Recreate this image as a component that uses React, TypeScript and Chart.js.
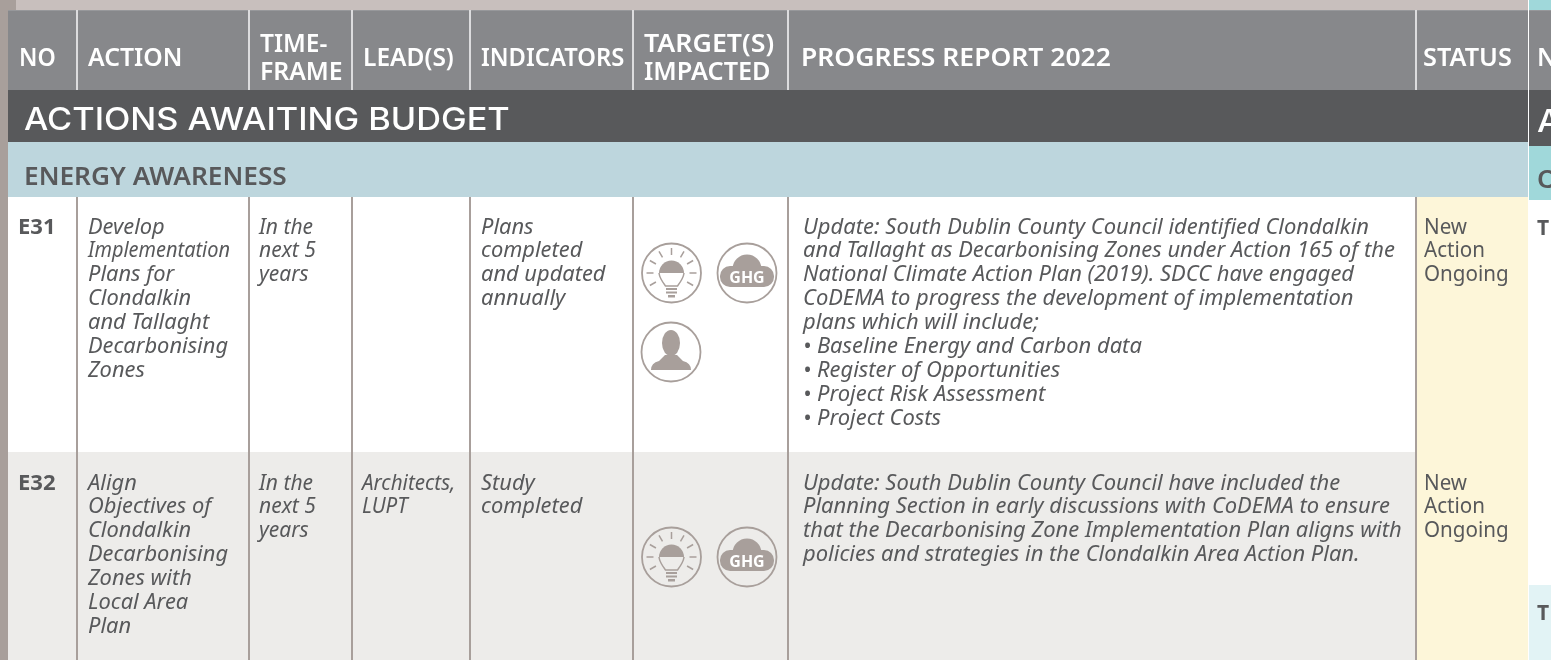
import React, { useEffect, useRef } from "react";
import { Chart, registerables } from "chart.js";

Chart.register(...registerables);

const W = 1551;
const H = 660;

const columnEdges = [77, 249, 352, 470, 633, 788, 1416];
const headers: [string[], number][] = [
  [["NO"], 19],
  [["ACTION"], 88],
  [["TIME-", "FRAME"], 260],
  [["LEAD(S)"], 363],
  [["INDICATORS"], 481],
  [["TARGET(S)", "IMPACTED"], 644],
  [["PROGRESS REPORT 2022"], 801],
  [["STATUS"], 1423],
];
const sectionTitle = "ACTIONS AWAITING BUDGET";
const subTitle = "ENERGY AWARENESS";

const rowNo = ["E31", "E32"];
const rowAction = [
  ["Develop", "Implementation", "Plans for", "Clondalkin", "and Tallaght", "Decarbonising", "Zones"],
  ["Align", "Objectives of", "Clondalkin", "Decarbonising", "Zones with", "Local Area", "Plan"],
];
const rowTime = [
  ["In the", "next 5", "years"],
  ["In the", "next 5", "years"],
];
const rowLead = [[], ["Architects,", "LUPT"]];
const rowIndicators = [
  ["Plans", "completed", "and updated", "annually"],
  ["Study", "completed"],
];
const rowProgress = [
  [
    "Update: South Dublin County Council identified Clondalkin",
    "and Tallaght as Decarbonising Zones under Action 165 of the",
    "National Climate Action Plan (2019). SDCC have engaged",
    "CoDEMA to progress the development of implementation",
    "plans which will include;",
    "• Baseline Energy and Carbon data",
    "• Register of Opportunities",
    "• Project Risk Assessment",
    "• Project Costs",
  ],
  [
    "Update: South Dublin County Council have included the",
    "Planning Section in early discussions with CoDEMA to ensure",
    "that the Decarbonising Zone Implementation Plan aligns with",
    "policies and strategies in the Clondalkin Area Action Plan.",
  ],
];
const rowStatus = ["New", "Action", "Ongoing"];
const bulbIcons = [{ x: 671.5, y: 273 }, { x: 671.5, y: 557 }];
const ghgIcons = [{ x: 747, y: 273 }, { x: 747, y: 557 }];
const personIcons = [{ x: 671, y: 352 }];

const INK = "#58595b";
const ICON = "#a89f9b";
const BODY = "Noto Sans";
const BODY_SIZE = 21;
const LINE = 23.95;
const headerFit: Record<string, number> = {
  NO: 0.93,
  ACTION: 0.99,
  "TIME-": 0.98,
  FRAME: 0.99,
  "LEAD(S)": 0.98,
  INDICATORS: 0.95,
  "TARGET(S)": 1.07,
  IMPACTED: 1.01,
  "PROGRESS REPORT 2022": 1.06,
  STATUS: 1.01,
};

function drawBulb(c: CanvasRenderingContext2D, x: number, y: number) {
  c.save();
  c.translate(x, y);
  c.fillStyle = ICON;
  c.strokeStyle = ICON;
  c.lineWidth = 1.5;
  c.beginPath();
  c.arc(0, 0, 12.5, Math.PI, 2 * Math.PI);
  c.closePath();
  c.fill();
  c.beginPath();
  c.moveTo(-12.5, 0);
  c.quadraticCurveTo(-12, 5, -6, 13);
  c.lineTo(6, 13);
  c.quadraticCurveTo(12, 5, 12.5, 0);
  c.stroke();
  c.fillRect(-5.5, 15, 11, 2);
  c.fillRect(-5.5, 18.5, 11, 2);
  c.fillRect(-3.5, 22, 7, 2.5);
  const rays = [-150, -120, -90, -60, -30, 0, 30, 180, 150];
  rays.forEach((d) => {
    const a = (d * Math.PI) / 180;
    c.beginPath();
    c.moveTo(Math.cos(a) * 18, Math.sin(a) * 18);
    c.lineTo(Math.cos(a) * 25, Math.sin(a) * 25);
    c.stroke();
  });
  c.restore();
}

function drawCloud(c: CanvasRenderingContext2D, x: number, y: number) {
  c.save();
  c.translate(x, y);
  c.fillStyle = ICON;
  c.beginPath();
  c.arc(0, -4, 14.5, 0, 2 * Math.PI);
  c.fill();
  c.beginPath();
  c.roundRect(-27, -7, 54, 21, 10);
  c.fill();
  c.fillStyle = "#ffffff";
  c.font = `bold 16px "${BODY}"`;
  c.textAlign = "center";
  c.textBaseline = "alphabetic";
  c.fillText("GHG", 0, 10);
  c.restore();
}

function drawPerson(c: CanvasRenderingContext2D, x: number, y: number) {
  c.save();
  c.translate(x, y);
  c.fillStyle = ICON;
  c.beginPath();
  c.ellipse(0, -9, 9, 13, 0, 0, 2 * Math.PI);
  c.fill();
  c.beginPath();
  c.moveTo(-20, 18);
  c.quadraticCurveTo(-20, 11, -12, 9);
  c.lineTo(-6, 3);
  c.lineTo(6, 3);
  c.lineTo(12, 9);
  c.quadraticCurveTo(20, 11, 20, 18);
  c.closePath();
  c.fill();
  c.restore();
}

const tablePlugin = {
  id: "table",
  beforeDatasetsDraw(chart: any) {
    const c: CanvasRenderingContext2D = chart.ctx;
    const sx = (v: number) => chart.scales.x.getPixelForValue(v);
    const sy = (v: number) => chart.scales.y.getPixelForValue(v);
    const rect = (x0: number, y0: number, x1: number, y1: number, color: string) => {
      c.fillStyle = color;
      c.fillRect(sx(x0), sy(y0), sx(x1) - sx(x0), sy(y1) - sy(y0));
    };
    const text = (s: string, x: number, y: number, font: string, color: string, hs = 1) => {
      c.save();
      c.font = font;
      c.fillStyle = color;
      c.textAlign = "left";
      c.textBaseline = "alphabetic";
      c.translate(sx(x), sy(y));
      c.scale(hs, 1);
      c.fillText(s, 0, 0);
      c.restore();
    };

    rect(0, 0, W, H, "#ffffff");
    rect(0, 0, 16, 10, ICON);
    rect(16, 0, 1528, 10, "#c8bfbd");
    rect(0, 10, 8, H, ICON);
    rect(1529, 0, W, 10, "#a0d8da");

    // header
    rect(8, 10, 1528, 90, "#87888b");
    rect(1529, 10, W, 90, "#87888b");
    rect(8, 10, 1528, 11, "#97989b");
    rect(1529, 10, W, 11, "#97989b");
    rect(8, 90, 1528, 142, INK);
    rect(1529, 90, W, 146, INK);
    rect(8, 142, 1528, 197, "#bdd6dd");
    rect(1529, 146, W, 200, "#a0d8da");
    rect(1528, 10, 1529, 200, "#ffffff");

    // rows
    rect(8, 197, 1416, 452, "#ffffff");
    rect(8, 452, 1416, H, "#edecea");
    rect(1416, 197, 1528, H, "#fdf6d9");
    rect(1529, 585, W, H, "#e2f3f5");

    columnEdges.forEach((x) => {
      rect(x - 1, 10, x + 1, 90, "#dcdcde");
      rect(x - 1, 197, x + 1, H, ICON);
    });
    rect(1528, 10, 1529, 90, "#ffffff");

    // header labels
    const HF = `600 25px "${BODY}"`;
    headers.forEach(([lines, x]) => {
      if (lines.length === 1) text(lines[0], x, 66, HF, "#ffffff", headerFit[lines[0]]);
      else {
        text(lines[0], x, 52, HF, "#ffffff", headerFit[lines[0]]);
        text(lines[1], x, 80, HF, "#ffffff", headerFit[lines[1]]);
      }
    });
    text("N", 1537, 66, HF, "#ffffff");
    const SF = `500 31px "Inter"`;
    text(sectionTitle, 24, 129.5, SF, "#ffffff", 1.107);
    text("A", 1537, 132, SF, "#ffffff", 1.107);
    const SB = `600 25px "${BODY}"`;
    text(subTitle, 24, 185, SB, INK, 1.05);
    text("O", 1537, 188, SB, INK, 1.05);

    // row bodies
    const IT = `italic ${BODY_SIZE}px "${BODY}"`;
    const RG = `${BODY_SIZE}px "${BODY}"`;
    const BD = `bold ${BODY_SIZE}px "${BODY}"`;
    const rowTop = [233.5, 489.5];
    rowTop.forEach((y0, r) => {
      text(rowNo[r], 18, y0, BD, INK, 1.05);
      rowAction[r].forEach((s, i) =>
        text(s, 88, y0 + i * LINE, IT, INK, s === "Implementation" ? 0.95 : 1.04)
      );
      rowTime[r].forEach((s, i) => text(s, 259, y0 + i * LINE, IT, INK, 1.0));
      rowLead[r].forEach((s, i) => text(s, 362, y0 + i * LINE, IT, INK, 0.98));
      rowIndicators[r].forEach((s, i) => text(s, 481, y0 + i * LINE, IT, INK, 1.04));
      rowProgress[r].forEach((s, i) => text(s, 803, y0 + i * LINE, IT, INK, 1.045));
      rowStatus.forEach((s, i) => text(s, 1424, y0 + i * LINE, RG, INK, 0.98));
    });
    text("T", 1537, 235, BD, INK);
    text("T", 1537, 620, BD, INK);
  },
  afterDatasetsDraw(chart: any) {
    const c: CanvasRenderingContext2D = chart.ctx;
    const sx = (v: number) => chart.scales.x.getPixelForValue(v);
    const sy = (v: number) => chart.scales.y.getPixelForValue(v);
    bulbIcons.forEach((p) => drawBulb(c, sx(p.x), sy(p.y)));
    ghgIcons.forEach((p) => drawCloud(c, sx(p.x), sy(p.y)));
    personIcons.forEach((p) => drawPerson(c, sx(p.x), sy(p.y)));
  },
};

export default function App() {
  const ref = useRef<HTMLCanvasElement>(null);
  useEffect(() => {
    document.body.style.margin = "0";
    const chart = new Chart(ref.current!, {
      type: "scatter",
      data: {
        datasets: [
          {
            label: "Targets impacted",
            data: [...bulbIcons, ...ghgIcons, ...personIcons],
            pointRadius: 29.5,
            pointBorderWidth: 1.8,
            pointBorderColor: ICON,
            pointBackgroundColor: "rgba(0,0,0,0)",
          },
        ],
      },
      options: {
        animation: false,
        responsive: false,
        layout: { padding: 0, autoPadding: false },
        plugins: { legend: { display: false }, tooltip: { enabled: false }, title: { display: false } },
        scales: {
          x: { type: "linear", display: false, min: 0, max: W },
          y: { type: "linear", display: false, min: 0, max: H, reverse: true },
        },
      },
      plugins: [tablePlugin],
    });
    return () => chart.destroy();
  }, []);
  return <canvas ref={ref} width={W} height={H} style={{ display: "block" }} />;
}
